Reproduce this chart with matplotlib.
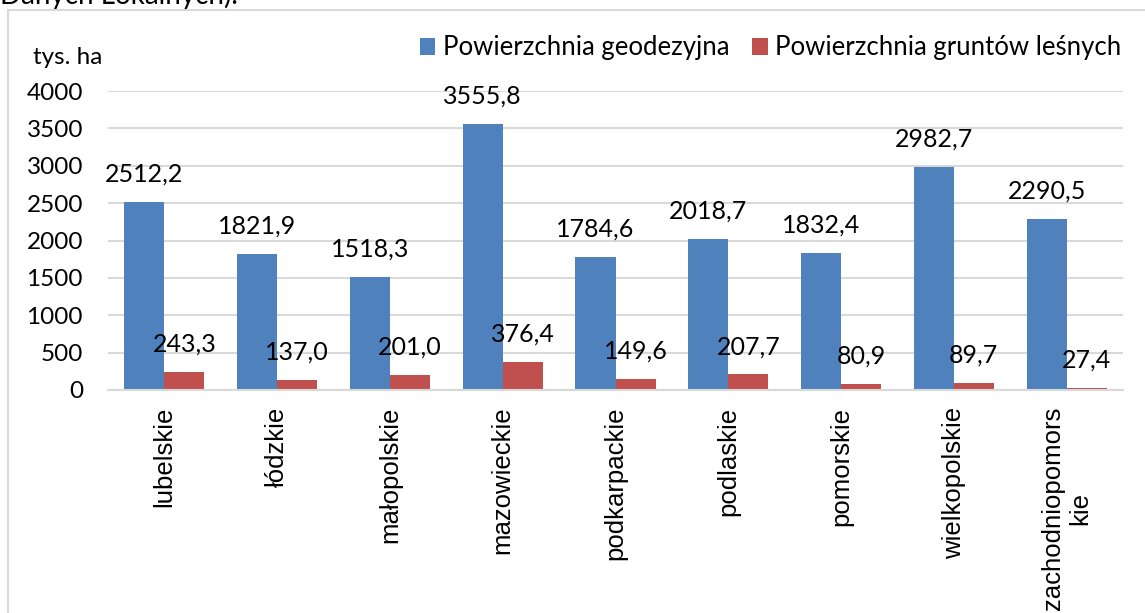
import matplotlib.pyplot as plt
import numpy as np

regions = ["lubelskie", "łódzkie", "małopolskie", "mazowieckie", "podkarpackie",
           "podlaskie", "pomorskie", "wielkopolskie", "zachodniopomors\nkie"]
geodesic = [2512.2, 1821.9, 1518.3, 3555.8, 1784.6, 2018.7, 1832.4, 2982.7, 2290.5]
forest = [243.3, 137.0, 201.0, 376.4, 149.6, 207.7, 80.9, 89.7, 27.4]
series_names = ["Powierzchnia geodezyjna", "Powierzchnia gruntów leśnych"]

plt.rcParams['font.family'] = ['Lato', 'DejaVu Sans']
fs = 17.5
blue = "#4f81bd"
red = "#c0504d"
grid = "#d9d9d9"

W, H = 1145, 613
fig = plt.figure(figsize=(W / 100, H / 100), dpi=100)
ax = fig.add_axes([108 / W, 1 - 390 / H, (1123 - 108) / W, (390 - 91) / H])

x = np.arange(len(regions))
bw = 0.355
b1 = ax.bar(x - bw / 2, geodesic, bw, color=blue, label=series_names[0])
b2 = ax.bar(x + bw / 2, forest, bw, color=red, label=series_names[1])

for bars, vals in [(b1, geodesic), (b2, forest)]:
    for b, v in zip(bars, vals):
        ax.annotate(f"{v:.1f}".replace(".", ","), (b.get_x() + b.get_width() / 2, v),
                    xytext=(0, 20), textcoords="offset points",
                    ha="center", va="center", fontsize=fs + 0.5)

ax.set_xlim(-0.5, len(regions) - 0.5)
ax.set_ylim(0, 4000)
ax.set_yticks(range(0, 4001, 500))
ax.set_xticks(x)
ax.set_xticklabels(regions, rotation=90, ha="center", va="top", fontsize=18.5,
                   family=["Liberation Sans", "DejaVu Sans"], multialignment="center")
ax.tick_params(axis="y", labelsize=fs, length=0, pad=18)
ax.tick_params(axis="x", length=0, pad=12)
ax.yaxis.grid(True, color=grid, linewidth=1.5)
ax.set_axisbelow(True)
for s in ["top", "right", "left"]:
    ax.spines[s].set_visible(False)
ax.spines["bottom"].set_color(grid)
ax.spines["bottom"].set_linewidth(1.5)

fig.legend(loc="center right", bbox_to_anchor=(1132 / W, 1 - 48 / H), ncol=2,
           frameon=False, fontsize=18.5, handlelength=0.6, handleheight=0.6,
           handletextpad=0.3, columnspacing=0.9, borderaxespad=0)

fig.text(33 / W, 1 - 57 / H, "tys. ha", fontsize=fs, va="center", ha="left")
fig.text(0, 1 - 4 / H, "Danych Lokalnych).", fontsize=20, va="baseline", ha="left")

# chart frame
fig.add_artist(plt.Line2D([8 / W, 8 / W], [0, 1 - 10 / H], color=grid, lw=1.5))
fig.add_artist(plt.Line2D([8 / W, 1], [1 - 10 / H, 1 - 10 / H], color=grid, lw=1.5))

fig.savefig("out.png", dpi=100)
